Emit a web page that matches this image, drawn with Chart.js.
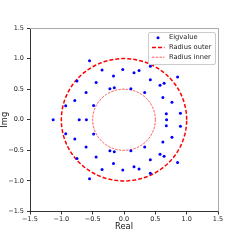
<!DOCTYPE html>
<html><head><meta charset="utf-8">
<script src="https://cdn.jsdelivr.net/npm/chart.js@4.4.1/dist/chart.umd.min.js"></script>
<style>html,body{margin:0;padding:0;background:#fff}#wrap{width:242px;height:242px}</style>
</head><body><div id="wrap"><canvas id="c" width="242" height="242"></canvas></div>
<script>
const eigReal = [-1.13, -0.93, -0.93, -0.785, -0.785, -0.75, -0.75, -0.715, -0.60, -0.605, -0.605,
  -0.55, -0.55, -0.485, -0.485, -0.445, -0.445, -0.35, -0.35, -0.225, -0.225, -0.168, -0.168,
  -0.155, -0.155, -0.02, -0.02, 0.11, 0.11, 0.16, 0.16, 0.24, 0.24, 0.33, 0.33, 0.42, 0.42,
  0.42, 0.42, 0.575, 0.575, 0.64, 0.64, 0.62, 0.62, 0.675, 0.675, 0.68, 0.765, 0.765,
  0.855, 0.855, 0.90, 0.90];
const eigImag = [0, 0.23, -0.23, 0.315, -0.315, 0.635, -0.635, 0, 0, 0.445, -0.445,
  0.963, -0.963, 0.235, -0.235, 0.61, -0.61, 0.815, -0.815, 0.507, -0.507, 0.714, -0.714,
  0.525, -0.525, 0.82, -0.82, 0.507, -0.507, 0.77, -0.77, 0.805, -0.805, 0.445, -0.445, 0.875, -0.875,
  0.655, -0.655, 0.563, -0.563, 0.597, -0.597, 0.365, -0.365, 0.098, -0.098, 0, 0.286, -0.286,
  0.70, -0.70, 0.107, -0.107];
const radii = [1.0, 0.5];
const seriesLabels = ['Eigvalue', 'Radius outer', 'Radius inner'];
const xTicks = [-1.5, -1.0, -0.5, 0.0, 0.5, 1.0, 1.5];
const yTicks = [-1.5, -1.0, -0.5, 0.0, 0.5, 1.0, 1.5];
const axisTitles = ['Real', 'Img'];

function circlePts(r) {
  const pts = [];
  const n = 180;
  for (let i = 0; i <= n; i++) {
    const t = 2 * Math.PI * i / n;
    pts.push({x: r * Math.cos(t), y: r * Math.sin(t)});
  }
  return pts;
}
const fmt = v => { const s = Math.abs(v).toFixed(1); return v < 0 ? '\u2212' + s : s; };
const FONT = 'DejaVu Sans';

const spines = {
  id: 'spines',
  afterDraw(chart) {
    const {ctx, chartArea: a} = chart;
    ctx.save();
    ctx.strokeStyle = '#aaaaaa';
    ctx.lineWidth = 1;
    ctx.beginPath();
    ctx.moveTo(a.left, a.top + 0.5); ctx.lineTo(a.right + 0.5, a.top + 0.5);
    ctx.lineTo(a.right + 0.5, a.bottom);
    ctx.stroke();
    ctx.restore();
  }
};

const legendBox = {
  id: 'legendBox',
  afterDraw(chart) {
    const {ctx} = chart;
    const x0 = 148, y0 = 32, w = 67, h = 32;
    ctx.save();
    ctx.fillStyle = 'rgba(255,255,255,0.85)';
    ctx.strokeStyle = '#cccccc';
    ctx.lineWidth = 1;
    ctx.beginPath();
    ctx.roundRect(x0 + 0.5, y0 + 0.5, w, h, 1.5);
    ctx.fill(); ctx.stroke();
    const rows = [37.7, 47.4, 57.2];
    ctx.font = '6.7px "' + FONT + '"';
    ctx.textBaseline = 'middle';
    chart.data.datasets.forEach((ds, i) => {
      const y = rows[i];
      if (i === 0) {
        ctx.fillStyle = ds.backgroundColor;
        ctx.beginPath(); ctx.arc(158, y, ds.pointRadius, 0, Math.PI * 2); ctx.fill();
      } else {
        ctx.strokeStyle = ds.borderColor;
        ctx.lineWidth = ds.borderWidth;
        ctx.setLineDash(ds.borderDash);
        ctx.beginPath(); ctx.moveTo(152, y); ctx.lineTo(164.5, y); ctx.stroke();
        ctx.setLineDash([]);
      }
      ctx.fillStyle = '#222';
      ctx.fillText(ds.label, 169, y);
    });
    ctx.restore();
  }
};

new Chart(document.getElementById('c'), {
  type: 'scatter',
  data: {
    datasets: [
      {label: seriesLabels[0], data: eigReal.map((v, i) => ({x: v, y: eigImag[i]})),
        backgroundColor: '#0000ff', borderColor: '#0000ff', pointRadius: 1.5, borderWidth: 0, order: 0},
      {label: seriesLabels[1], data: circlePts(radii[0]), showLine: true, pointRadius: 0,
        borderColor: '#ff0000', borderWidth: 1.5, borderDash: [4, 2], fill: false, order: 1},
      {label: seriesLabels[2], data: circlePts(radii[1]), showLine: true, pointRadius: 0,
        borderColor: 'rgba(255,0,0,0.75)', borderWidth: 0.9, borderDash: [2.5, 1.2], fill: false, order: 2}
    ]
  },
  options: {
    responsive: false,
    animation: false,
    devicePixelRatio: 1,
    layout: {padding: {left: 0, top: 28, right: 24, bottom: 10}},
    plugins: {legend: {display: false}, tooltip: {enabled: false}},
    scales: {
      x: {
        type: 'linear', min: -1.5, max: 1.5,
        afterBuildTicks: s => { s.ticks = xTicks.map(v => ({value: v})); },
        afterFit: s => { s.height = 20.5; },
        grid: {drawOnChartArea: false, drawTicks: true, tickLength: 3, color: '#333'},
        border: {display: true, color: '#333', width: 1},
        ticks: {callback: v => fmt(v), font: {family: FONT, size: 6.5}, color: '#222', padding: 1, maxRotation: 0, autoSkip: false},
        title: {display: true, text: axisTitles[0], font: {family: FONT, size: 8.3}, color: '#111', padding: 0}
      },
      y: {
        type: 'linear', min: -1.5, max: 1.5,
        afterBuildTicks: s => { s.ticks = yTicks.map(v => ({value: v})); },
        afterFit: s => { s.width = 30; },
        grid: {drawOnChartArea: false, drawTicks: true, tickLength: 3, color: '#333'},
        border: {display: true, color: '#333', width: 1},
        ticks: {callback: v => fmt(v), font: {family: FONT, size: 6.5}, color: '#222', padding: 3, autoSkip: false},
        title: {display: true, text: axisTitles[1], font: {family: FONT, size: 8.3}, color: '#111', padding: 0}
      }
    }
  },
  plugins: [spines, legendBox]
});
</script></body></html>
